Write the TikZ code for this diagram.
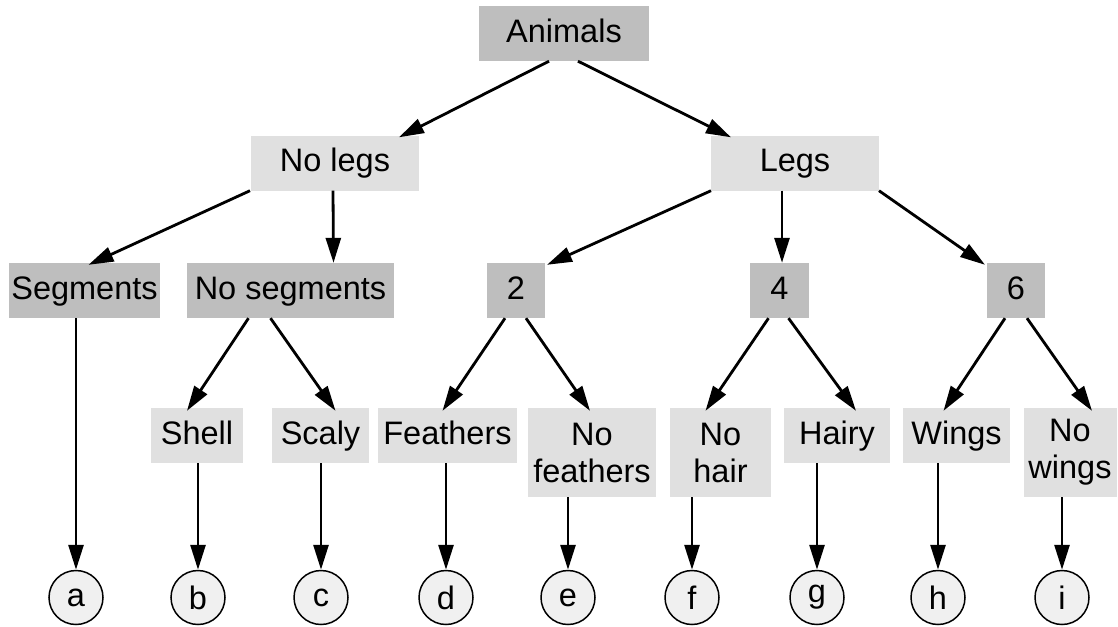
\documentclass[tikz,border=0pt]{standalone}
\usepackage{fontspec}
\setmainfont{Liberation Sans}
\usetikzlibrary{arrows.meta,calc}
\definecolor{boxdark}{HTML}{BEBEBE}
\definecolor{boxlight}{HTML}{E0E0E0}
\definecolor{leaffill}{HTML}{F0F0F0}
\begin{document}
\begin{tikzpicture}[x=1pt,y=-1pt,
  every node/.style={font=\fontsize{32.5}{37}\selectfont, inner sep=0pt},
  one/.style={text height=23.5pt, text depth=6.5pt},
  dark/.style={one, fill=boxdark, minimum height=55pt},
  light/.style={one, fill=boxlight, minimum height=55pt},
  tall/.style={fill=boxlight, minimum height=89pt, align=center},
  leaf/.style={circle, draw, line width=1.5pt, fill=leaffill, minimum size=54pt},
  arr/.style={-{Triangle[length=25pt,width=15pt]}, line width=2.8pt}]
\useasboundingbox (0,0) rectangle (1118,626);

% level 0-2
\node[dark, minimum width=170pt] (animals) at (564,33.5) {Animals};
\node[light, minimum width=168pt] (nolegs) at (335,163) {No legs};
\node[light, minimum width=168pt] (legs) at (795,163) {Legs};
\node[dark, minimum width=151pt] (segments) at (84.5,290.5) {Segments};
\node[dark, minimum width=207pt] (noseg) at (290.5,290.5) {No segments};
\node[dark, minimum width=58pt] (two) at (516,290.5) {2};
\node[dark, minimum width=59pt] (four) at (779.5,290.5) {4};
\node[dark, minimum width=58pt] (six) at (1016,290.5) {6};

% level 3
\node[light, minimum width=92pt] (shell) at (197,435.5) {Shell};
\node[light, minimum width=97pt] (scaly) at (320.5,435.5) {Scaly};
\node[light, minimum width=139pt] (feathers) at (447.5,435.5) {Feathers};
\node[tall, minimum width=128pt] (nofeathers) at (592,452.5) {No\\feathers};
\node[tall, minimum width=101pt] (nohair) at (720.5,452.5) {No\\hair};
\node[light, minimum width=106pt] (hairy) at (837,435.5) {Hairy};
\node[light, minimum width=107pt] (wings) at (956.5,435.5) {Wings};
\node[tall, minimum width=93pt] (nowings) at (1070,452.5) {No\\wings};

% leaves
\node[leaf] (a) at (76,597.5) {a};
\node[leaf] (b) at (198,597.5) {b};
\node[leaf] (c) at (321,597.5) {c};
\node[leaf] (d) at (446,597.5) {d};
\node[leaf] (e) at (568,597.5) {e};
\node[leaf] (f) at (692,597.5) {f};
\node[leaf] (g) at (817,597.5) {g};
\node[leaf] (h) at (938,597.5) {h};
\node[leaf] (i) at (1062,597.5) {i};

% edges
\draw[arr] ($(animals.south)+(-15,0)$) -- ($(nolegs.north)+(64,2)$);
\draw[arr] ($(animals.south)+(14,0)$) -- ($(legs.north)+(-64,2)$);
\draw[arr] ($(nolegs.south)+(-85,0)$) -- ($(segments.north)+(4,2)$);
\draw[arr] ($(nolegs.south)+(-2,0)$) -- ($(noseg.north)+(43,0)$);
\draw[arr] ($(legs.south)+(-84,0)$) -- ($(two.north)+(31,2)$);
\draw[arr] ($(legs.south)+(-13,0)$) -- ($(four.north)+(2.5,0)$);
\draw[arr] ($(legs.south)+(84,0)$) -- ($(six.north)+(-31,2)$);
\draw[arr] ($(noseg.south)+(-42,0)$) -- ($(shell.north)+(-10,3)$);
\draw[arr] ($(noseg.south)+(-20,0)$) -- ($(scaly.north)+(15,3)$);
\draw[arr] ($(two.south)+(-11,0)$) -- ($(feathers.north)+(-5,3)$);
\draw[arr] ($(two.south)+(10,0)$) -- ($(nofeathers.north)+(-2,3)$);
\draw[arr] ($(four.south)+(-11,0)$) -- ($(nohair.north)+(-15,3)$);
\draw[arr] ($(four.south)+(9,0)$) -- ($(hairy.north)+(19,3)$);
\draw[arr] ($(six.south)+(-11,0)$) -- ($(wings.north)+(-13,3)$);
\draw[arr] ($(six.south)+(11,0)$) -- ($(nowings.north)+(22,3)$);

\draw[arr] (a.north |- segments.south) -- (a.north);
\draw[arr] (b.north |- shell.south) -- (b.north);
\draw[arr] (c.north |- scaly.south) -- (c.north);
\draw[arr] (d.north |- feathers.south) -- (d.north);
\draw[arr] (e.north |- nofeathers.south) -- (e.north);
\draw[arr] (f.north |- nohair.south) -- (f.north);
\draw[arr] (g.north |- hairy.south) -- (g.north);
\draw[arr] (h.north |- wings.south) -- (h.north);
\draw[arr] (i.north |- nowings.south) -- (i.north);
\end{tikzpicture}
\end{document}
